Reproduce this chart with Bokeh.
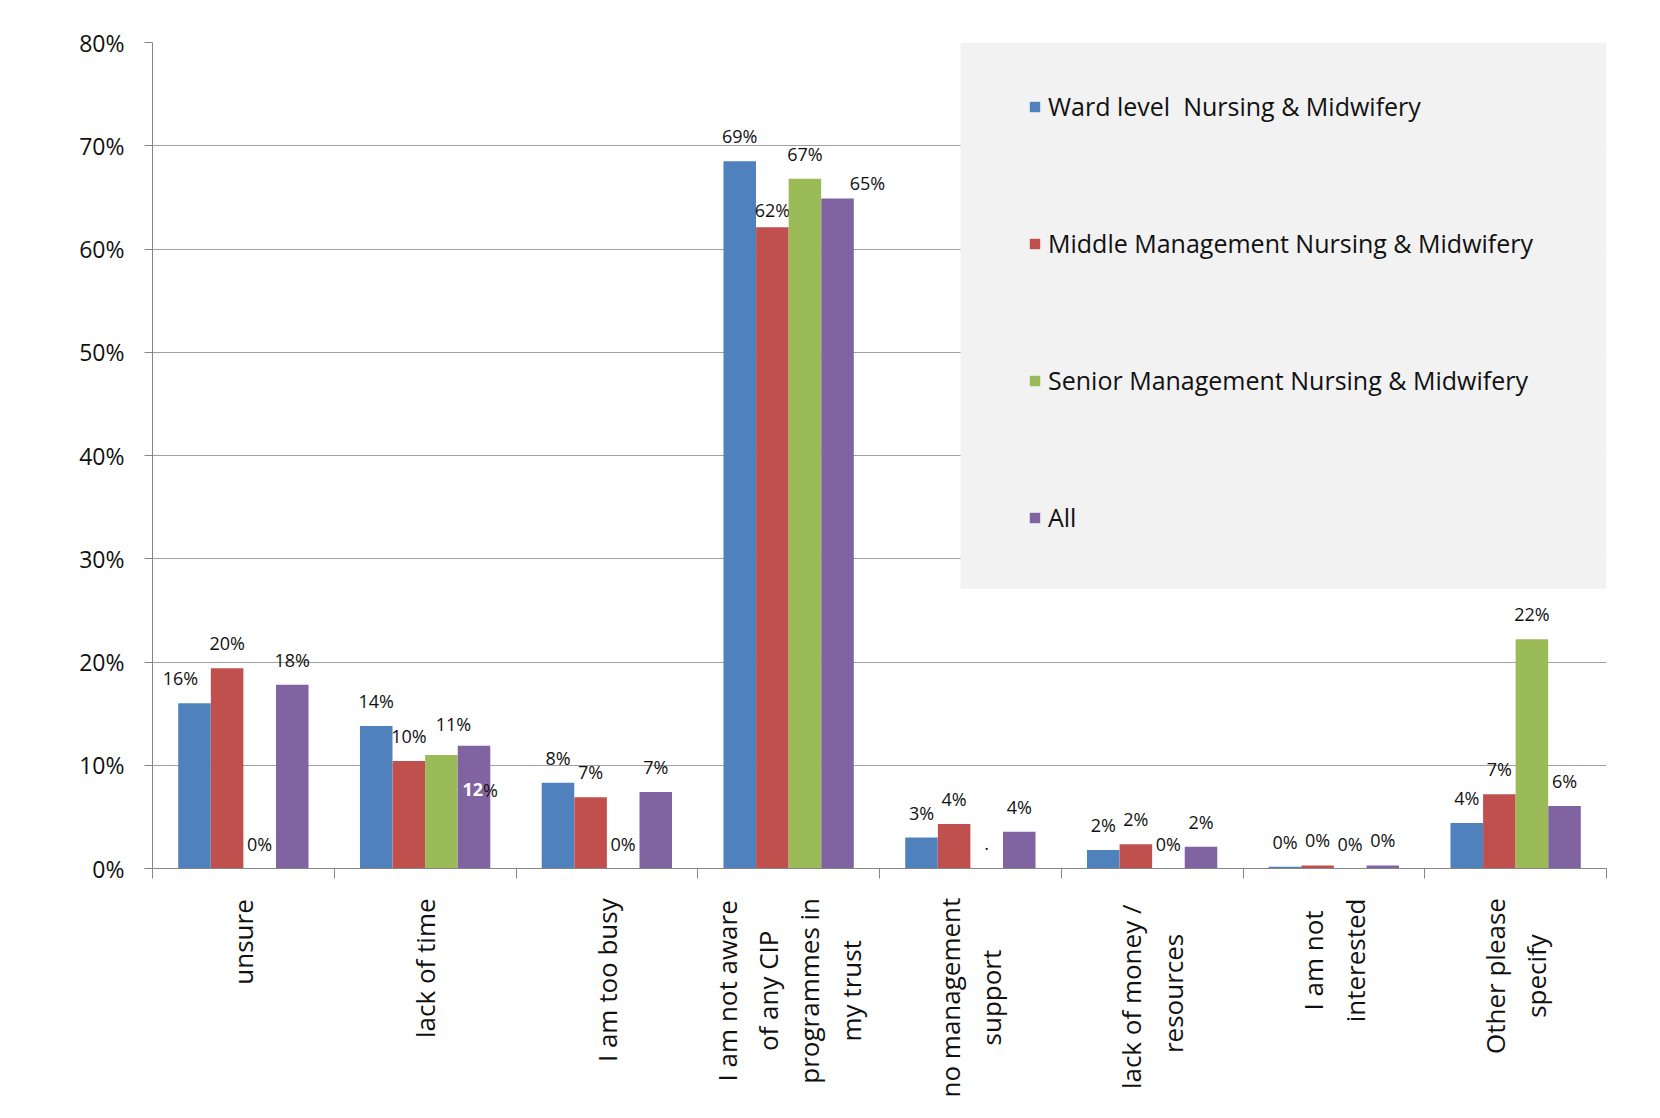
import math
from bokeh.plotting import figure
from bokeh.layouts import column
from bokeh.models import (ColumnDataSource, Range1d, FixedTicker, NumeralTickFormatter,
                          Legend, LegendItem, BoxAnnotation)
from bokeh.embed import file_html
from bokeh.resources import INLINE
from bokeh.core.properties import value

# ---- data ----
categories = [
    "unsure",
    "lack of time",
    "I am too busy",
    "I am not aware\nof any CIP\nprogrammes in\nmy trust",
    "no management\nsupport",
    "lack of  money /\nresources",
    "I am not\ninterested",
    "Other please\nspecify",
]
series_names = [
    "Ward level  Nursing & Midwifery",
    "Middle Management Nursing & Midwifery",
    "Senior Management Nursing & Midwifery",
    "All",
]
ward = [0.160, 0.138, 0.083, 0.685, 0.030, 0.018, 0.0016, 0.044]
middle = [0.194, 0.104, 0.069, 0.621, 0.043, 0.0235, 0.003, 0.072]
senior = [0.0, 0.110, 0.0, 0.668, 0.0, 0.0, 0.0, 0.222]
all_groups = [0.178, 0.119, 0.074, 0.649, 0.0355, 0.021, 0.003, 0.0605]

ward_labels = ["16%", "14%", "8%", "69%", "3%", "2%", "0%", "4%"]
middle_labels = ["20%", "10%", "7%", "62%", "4%", "2%", "0%", "7%"]
senior_labels = ["0%", "11%", "0%", "67%", ".", "0%", "0%", "22%"]
all_labels = ["18%", "12%", "7%", "65%", "4%", "2%", "0%", "6%"]

y_ticks = [0.0, 0.1, 0.2, 0.3, 0.4, 0.5, 0.6, 0.7, 0.8]

# ---- styling ----
colors = ["#4F81BD", "#C0504D", "#9BBB59", "#8064A2"]
offsets = [-0.269, -0.0895, 0.0895, 0.269]
bar_w = 0.179
FONT = "Open Sans"
CAT_FONT_PX = 26
MAIN_H = 890
LABEL_H = 1118 - MAIN_H

# label nudges in screen px (series index, category index) -> (dx, dy)
nudges = {
    (0, 0): (-14, 0),
    (2, 1): (12, -6),
    (1, 3): (0, 8),
    (3, 3): (30, 10),
}

# approximate advance widths (em) of Open Sans, used to centre the rotated category labels
_adv = {' ': 0.26, 'a': 0.556, 'b': 0.613, 'c': 0.476, 'd': 0.613, 'e': 0.561, 'f': 0.339,
        'g': 0.548, 'h': 0.614, 'i': 0.253, 'k': 0.525, 'l': 0.253, 'm': 0.93, 'n': 0.614,
        'o': 0.604, 'p': 0.613, 'r': 0.408, 's': 0.477, 't': 0.353, 'u': 0.614, 'w': 0.785,
        'y': 0.501, 'I': 0.288, 'C': 0.634, 'P': 0.604, 'O': 0.772, '/': 0.367}


def text_len(s, px):
    return 0.97 * px * sum(_adv.get(ch, 0.55) for ch in s)


values = [ward, middle, senior, all_groups]
labels = [ward_labels, middle_labels, senior_labels, all_labels]
n = len(categories)

x_range = Range1d(0, n)
p = figure(
    width=1660, height=MAIN_H,
    x_range=x_range, y_range=Range1d(0, 0.8),
    output_backend="svg", toolbar_location=None,
    min_border_left=152, min_border_right=54, min_border_top=42, min_border_bottom=22,
)
p.outline_line_color = None
p.background_fill_color = "white"
p.border_fill_color = "white"

# legend background panel (top right of the plot area)
p.add_layout(BoxAnnotation(left=4.446, right=8, top=0.8, bottom=0.271,
                           fill_color="#f2f2f2", fill_alpha=1.0, line_color=None,
                           level="underlay"))

renderers = []
for j, (vals, labs) in enumerate(zip(values, labels)):
    xs = [i + 0.5 + offsets[j] for i in range(n)]
    src = ColumnDataSource(dict(x=xs, top=vals))
    r = p.vbar(x="x", top="top", width=bar_w, source=src, fill_color=colors[j], line_color=None)
    renderers.append(r)

    txt, tx, ty, dx, dy = [], [], [], [], []
    for i in range(n):
        if j == 3 and i == 1:
            continue
        ddx, ddy = nudges.get((j, i), (0, 0))
        txt.append(labs[i]); tx.append(xs[i]); ty.append(vals[i])
        dx.append(ddx); dy.append(-25 + ddy)
    lsrc = ColumnDataSource(dict(x=tx, y=ty, text=txt, dx=dx, dy=dy))
    p.text(x="x", y="y", text="text", source=lsrc, x_offset="dx", y_offset="dy",
           text_align="center", text_baseline="middle",
           text_font=value(FONT), text_font_size="18px", text_color="#111111")

# special label inside the "All / lack of time" bar
sp_x = [1 + 0.5 + offsets[3]]
sp_y = [all_groups[1]]
p.text(x=sp_x, y=sp_y, text=[all_labels[1][:-1]], x_offset=9, y_offset=44,
       text_align="right", text_baseline="middle",
       text_font=value(FONT), text_font_size="18px", text_color="white", text_font_style="bold")
p.text(x=sp_x, y=sp_y, text=["%"], x_offset=9, y_offset=44,
       text_align="left", text_baseline="middle",
       text_font=value(FONT), text_font_size="18px", text_color="#111111")

# axes
p.yaxis.ticker = FixedTicker(ticks=y_ticks)
p.yaxis.formatter = NumeralTickFormatter(format="0%")
p.yaxis.major_label_text_font = FONT
p.yaxis.major_label_text_font_size = "23px"
p.yaxis.major_label_text_color = "#111111"
p.yaxis.axis_line_color = "#868686"
p.yaxis.major_tick_line_color = "#868686"
p.yaxis.major_tick_out = 8
p.yaxis.major_tick_in = 0
p.yaxis.minor_tick_line_color = None
p.yaxis.major_label_standoff = 20

p.xaxis.ticker = FixedTicker(ticks=[], minor_ticks=list(range(n + 1)))
p.xaxis.major_tick_line_color = None
p.xaxis.minor_tick_line_color = "#868686"
p.xaxis.minor_tick_out = 10
p.xaxis.minor_tick_in = 0
p.xaxis.axis_line_color = "#868686"

p.xgrid.visible = False
p.ygrid.ticker = FixedTicker(ticks=y_ticks)
p.ygrid.grid_line_color = "#a0a0a0"

legend = Legend(
    items=[LegendItem(label=name, renderers=[r]) for name, r in zip(series_names, renderers)],
    location=(876, 334), margin=0, padding=0,
    background_fill_alpha=0.0, border_line_color=None,
    label_text_font=FONT, label_text_font_size="25px", label_text_color="#111111",
    glyph_width=13, glyph_height=13, label_standoff=7, label_height=32, spacing=103,
)
p.add_layout(legend)

# ---- category labels: a strip below the chart sharing its x range ----
q = figure(
    width=1660, height=LABEL_H,
    x_range=x_range, y_range=Range1d(0, LABEL_H),
    output_backend="svg", toolbar_location=None,
    min_border_left=152, min_border_right=54, min_border_top=0, min_border_bottom=0,
)
q.axis.visible = False
q.grid.visible = False
q.outline_line_color = None
q.background_fill_color = "white"
q.border_fill_color = "white"

centers = [i + 0.5 for i in range(n)]
cat_off = [10 + max(text_len(line, CAT_FONT_PX) for line in c.split("\n")) / 2 for c in categories]
cat_src = ColumnDataSource(dict(x=centers, y=[LABEL_H] * n, text=categories, off=cat_off))
q.text(x="x", y="y", text="text", source=cat_src, y_offset="off",
       angle=math.pi / 2, text_align="center", text_baseline="middle",
       text_font=value(FONT), text_font_size=f"{CAT_FONT_PX}px",
       text_color="#111111", text_line_height=1.15)

layout = column(p, q, spacing=0)
open("out.html", "w").write(file_html(layout, INLINE))
